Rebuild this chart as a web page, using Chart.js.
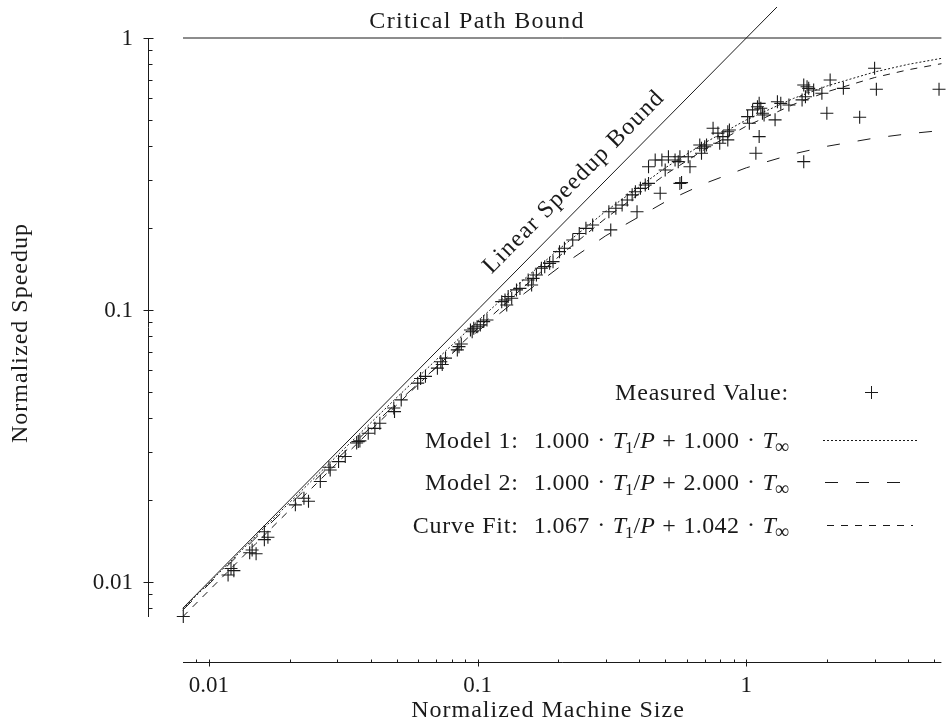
<!DOCTYPE html>
<html lang="en">
<head>
<meta charset="UTF-8">
<title>Normalized Speedup</title>
<script src="https://cdn.jsdelivr.net/npm/chart.js@4"></script>
<style>
  body { margin: 0; background: #fff; }
  #wrap { width: 949px; height: 723px; }
</style>
</head>
<body>
<div id="wrap"><canvas id="chart" width="949" height="723"></canvas></div>
<script>
// measured points (normalized machine size, normalized speedup)
const measuredX = [0.00804, 0.0118, 0.0121, 0.0124, 0.0142, 0.0145, 0.0150, 0.0161, 0.0161, 0.0166,
  0.0210, 0.0226, 0.0235, 0.0260, 0.0283, 0.0280, 0.0304, 0.0322, 0.0355, 0.0360,
  0.0365, 0.0392, 0.0415, 0.0433, 0.0491, 0.0488, 0.0520, 0.0599, 0.0614, 0.0640,
  0.0709, 0.0730, 0.0760, 0.0739, 0.0841, 0.0853, 0.0870, 0.0941, 0.0955, 0.0968,
  0.0996, 0.1024, 0.1054, 0.1084, 0.123, 0.1265, 0.130, 0.1284, 0.134, 0.1396,
  0.1438, 0.1543, 0.161, 0.1656, 0.1589, 0.1728, 0.1778, 0.1854, 0.1909, 0.2018,
  0.2105, 0.226, 0.239, 0.253, 0.268, 0.308, 0.313, 0.327, 0.345, 0.3606,
  0.376, 0.3866, 0.392, 0.4036, 0.4207, 0.4326, 0.478, 0.4326, 0.458, 0.485,
  0.499, 0.513, 0.543, 0.566, 0.566, 0.558, 0.608, 0.617, 0.574, 0.671,
  0.681, 0.700, 0.711, 0.681, 0.752, 0.784, 0.818, 0.853, 0.865, 0.853,
  0.796, 1.011, 1.055, 1.100, 1.132, 1.148, 1.164, 1.116, 1.026, 1.116,
  1.085, 1.279, 1.305, 1.343, 1.440, 1.635, 1.682, 1.706, 1.659, 1.612,
  1.780, 1.910, 2.050, 2.296, 1.993, 1.635, 2.640, 3.000, 3.046, 5.210];
const measuredY = [0.00746, 0.0106, 0.0112, 0.0110, 0.0128, 0.0131, 0.0127, 0.0143, 0.0153, 0.0146,
  0.0192, 0.0203, 0.0198, 0.0234, 0.0258, 0.0264, 0.0277, 0.0289, 0.0324, 0.0328,
  0.0330, 0.0352, 0.0367, 0.0383, 0.0423, 0.0436, 0.0467, 0.0538, 0.0560, 0.0570,
  0.0611, 0.0645, 0.0665, 0.0630, 0.0713, 0.0733, 0.0750, 0.0844, 0.0832, 0.0857,
  0.0868, 0.0881, 0.0906, 0.0919, 0.1073, 0.1088, 0.112, 0.1043, 0.1104, 0.1185,
  0.120, 0.1289, 0.1307, 0.1345, 0.1236, 0.1423, 0.1443, 0.1484, 0.1505, 0.1638,
  0.1686, 0.1808, 0.191, 0.1996, 0.2053, 0.2298, 0.197, 0.2365, 0.2432, 0.2538,
  0.265, 0.272, 0.2298, 0.280, 0.288, 0.292, 0.2685, 0.336, 0.356, 0.356,
  0.327, 0.366, 0.356, 0.366, 0.292, 0.351, 0.366, 0.336, 0.294, 0.404,
  0.393, 0.398, 0.404, 0.377, 0.466, 0.447, 0.434, 0.452, 0.459, 0.422,
  0.410, 0.514, 0.544, 0.559, 0.552, 0.529, 0.521, 0.575, 0.486, 0.434,
  0.377, 0.500, 0.583, 0.575, 0.567, 0.672, 0.662, 0.653, 0.608, 0.592,
  0.644, 0.626, 0.701, 0.653, 0.529, 0.351, 0.511, 0.774, 0.648, 0.648];

// model curves, sampled along the machine-size axis
const curveX  = [0.008, 0.01, 0.015, 0.02, 0.03, 0.05, 0.07, 0.1, 0.15, 0.2, 0.3, 0.5, 0.7, 1, 1.5, 2, 3, 4, 5.32];
const model1Y = [0.00794, 0.0099, 0.01478, 0.0196, 0.0291, 0.0476, 0.0654, 0.0909, 0.1304, 0.1667, 0.2308, 0.3333, 0.4118, 0.5, 0.6, 0.6667, 0.75, 0.8, 0.8418];
const model2Y = [0.00787, 0.0098, 0.01456, 0.01923, 0.0283, 0.04545, 0.0614, 0.0833, 0.1154, 0.1429, 0.1875, 0.25, 0.2917, 0.3333, 0.375, 0.4, 0.4286, 0.4444, 0.4570];
const fitY    = [0.00744, 0.00928, 0.01386, 0.01838, 0.02732, 0.04468, 0.06141, 0.08538, 0.1226, 0.1568, 0.2175, 0.3149, 0.3897, 0.4742, 0.5703, 0.6347, 0.7155, 0.7641, 0.8046];

// bounds
const linearX = [0.008, 1.3];
const linearY = [0.008, 1.3];
const criticalX = [0.00802, 5.317];
const criticalY = [1, 1];

const xTickValues = [0.01, 0.1, 1];
const xTickLabels = ["0.01", "0.1", "1"];
const yTickValues = [0.01, 0.1, 1];
const yTickLabels = ["0.01", "0.1", "1"];

const legendNames = ["Measured Value:", "Model 1:", "Model 2:", "Curve Fit:"];
const legendA = [null, "1.000", "1.000", "1.067"];
const legendB = [null, "1.000", "2.000", "1.042"];

function pts(xs, ys) { return xs.map((x, i) => ({ x: x, y: ys[i] })); }

const INK = "#1a1a1a";
const SERIF = "'Liberation Serif', 'Times New Roman', serif";

function line(ctx, x1, y1, x2, y2) {
  ctx.beginPath(); ctx.moveTo(x1, y1); ctx.lineTo(x2, y2); ctx.stroke();
}

// "Model 1:  1.000 · T1/P + 1.000 · T∞", right aligned at xr
function drawMath(ctx, name, a, b, xr, y) {
  const size = 24;
  const rm = size + "px " + SERIF, it = "italic " + size + "px " + SERIF;
  const sb = "17px " + SERIF, inf = "20px " + SERIF;
  const m = 7.5; // medium math space
  // [text, font, baseline shift, gap after, letterSpacing]
  const segs = [
    [name, rm, 0, 15, 0.8], [a, rm, 0, m, 0.4], ["\u00B7", rm, -1, m, 0],
    ["T", it, 0, -1, 0], ["1", sb, 5, 0, 0], ["/", rm, 0, 0, 0], ["P", it, 0, m, 0],
    ["+", rm, 0, m, 0], [b, rm, 0, m, 0.4], ["\u00B7", rm, -1, m, 0],
    ["T", it, 0, -1, 0], ["\u221E", inf, 5, 0, 0]
  ];
  let w = 0;
  segs.forEach(s => {
    ctx.font = s[1]; ctx.letterSpacing = s[4] + "px";
    s.push(ctx.measureText(s[0]).width); w += s[5] + s[3];
  });
  let x = xr - w;
  ctx.textAlign = "left";
  segs.forEach(s => {
    ctx.font = s[1]; ctx.letterSpacing = s[4] + "px";
    ctx.fillText(s[0], x, y + s[2]); x += s[5] + s[3];
  });
  ctx.letterSpacing = "0px";
}

const decorations = {
  id: "decorations",
  afterDraw(chart) {
    const ctx = chart.ctx, xs = chart.scales.x, ys = chart.scales.y;
    ctx.save();
    ctx.strokeStyle = INK; ctx.fillStyle = INK; ctx.lineWidth = 1;

    // y axis, set off to the left of the plot
    const ax = 148.5;
    line(ctx, ax, ys.getPixelForValue(ys.max), ax, ys.bottom);
    for (let n = -3; n <= 0; n++) {
      for (let k = 1; k <= 9; k++) {
        const v = Number((k * Math.pow(10, n)).toPrecision(3));
        if (v < ys.min || v > ys.max) continue;
        const p = Math.round(ys.getPixelForValue(v)) + 0.5;
        if (k === 1) line(ctx, ax - 5, p, ax + 5, p); else line(ctx, ax, p, ax + 4, p);
      }
    }
    ctx.font = "23px " + SERIF; ctx.textAlign = "right"; ctx.textBaseline = "middle";
    yTickValues.forEach((v, i) => ctx.fillText(yTickLabels[i], 133, ys.getPixelForValue(v) + 1));

    // x axis, set off below the plot
    const ay = 662.5;
    line(ctx, xs.left, ay, xs.right, ay);
    for (let n = -3; n <= 1; n++) {
      for (let k = 1; k <= 9; k++) {
        const v = Number((k * Math.pow(10, n)).toPrecision(3));
        if (v < xs.min || v > xs.max) continue;
        const p = Math.round(xs.getPixelForValue(v)) + 0.5;
        if (k === 1) line(ctx, p, ay - 3, p, ay + 4); else line(ctx, p, ay - 3, p, ay);
      }
    }
    ctx.textAlign = "center";
    xTickValues.forEach((v, i) => ctx.fillText(xTickLabels[i], xs.getPixelForValue(v), 686));

    // axis titles
    ctx.letterSpacing = "1px";
    ctx.font = "24px " + SERIF;
    ctx.fillText("Normalized Machine Size", 548, 711);
    ctx.save();
    ctx.translate(21, 333); ctx.rotate(-Math.PI / 2);
    ctx.fillText("Normalized Speedup", 0, 0);
    ctx.restore();

    // bound labels
    ctx.textBaseline = "alphabetic";
    ctx.letterSpacing = "1.3px";
    ctx.fillText("Critical Path Bound", 477, 28);
    const fx = xs.getPixelForValue(0.26), fy = ys.getPixelForValue(0.26);
    const ang = Math.atan2(ys.getPixelForValue(1) - ys.getPixelForValue(0.01), xs.getPixelForValue(1) - xs.getPixelForValue(0.01));
    ctx.save();
    ctx.translate(fx + 15 * Math.sin(ang), fy - 15 * Math.cos(ang));
    ctx.rotate(ang);
    ctx.fillText("Linear Speedup Bound", 0, 0);
    ctx.restore();

    // legend
    const rowY = [392, 440, 482, 525];
    ctx.letterSpacing = "0.8px";
    ctx.textAlign = "right";
    ctx.font = "24px " + SERIF;
    ctx.fillText(legendNames[0], 789, rowY[0] + 8);
    ctx.letterSpacing = "0px";
    for (let i = 1; i < 4; i++) drawMath(ctx, legendNames[i], legendA[i], legendB[i], 789, rowY[i] + 8);
    line(ctx, 865, rowY[0] + 0.5, 878, rowY[0] + 0.5);
    line(ctx, 871.5, rowY[0] - 6, 871.5, rowY[0] + 7);
    const dashes = [[2, 2], [13, 18], [7, 7]];
    const ends = [[823, 917], [825, 903], [827, 913]];
    for (let i = 1; i < 4; i++) {
      ctx.setLineDash(dashes[i - 1]);
      line(ctx, ends[i - 1][0], rowY[i] + 0.5, ends[i - 1][1], rowY[i] + 0.5);
    }
    ctx.setLineDash([]);
    ctx.restore();
  }
};

const lineBase = { showLine: true, pointRadius: 0, borderColor: INK, borderWidth: 1, fill: false, clip: false };

new Chart(document.getElementById("chart").getContext("2d"), {
  type: "scatter",
  data: {
    datasets: [
      Object.assign({ label: "Critical Path Bound", data: pts(criticalX, criticalY) }, lineBase),
      Object.assign({ label: "Linear Speedup Bound", data: pts(linearX, linearY) }, lineBase),
      Object.assign({ label: "Model 1", data: pts(curveX, model1Y), borderDash: [2, 2] }, lineBase),
      Object.assign({ label: "Model 2", data: pts(curveX, model2Y), borderDash: [13, 18] }, lineBase),
      Object.assign({ label: "Curve Fit", data: pts(curveX, fitY), borderDash: [7, 7] }, lineBase),
      {
        label: "Measured Value", data: pts(measuredX, measuredY), showLine: false,
        pointStyle: "cross", pointRadius: 6.5, borderWidth: 1.1, borderColor: INK, backgroundColor: INK, clip: false
      }
    ]
  },
  options: {
    responsive: false,
    animation: false,
    layout: { padding: { left: 183, right: 0, top: 38, bottom: 106 } },
    plugins: { legend: { display: false }, tooltip: { enabled: false } },
    scales: {
      x: { type: "logarithmic", min: 0.00802, max: 5.317, display: false },
      y: { type: "logarithmic", min: 0.00743, max: 1, display: false }
    }
  },
  plugins: [decorations]
});
</script>
</body>
</html>
